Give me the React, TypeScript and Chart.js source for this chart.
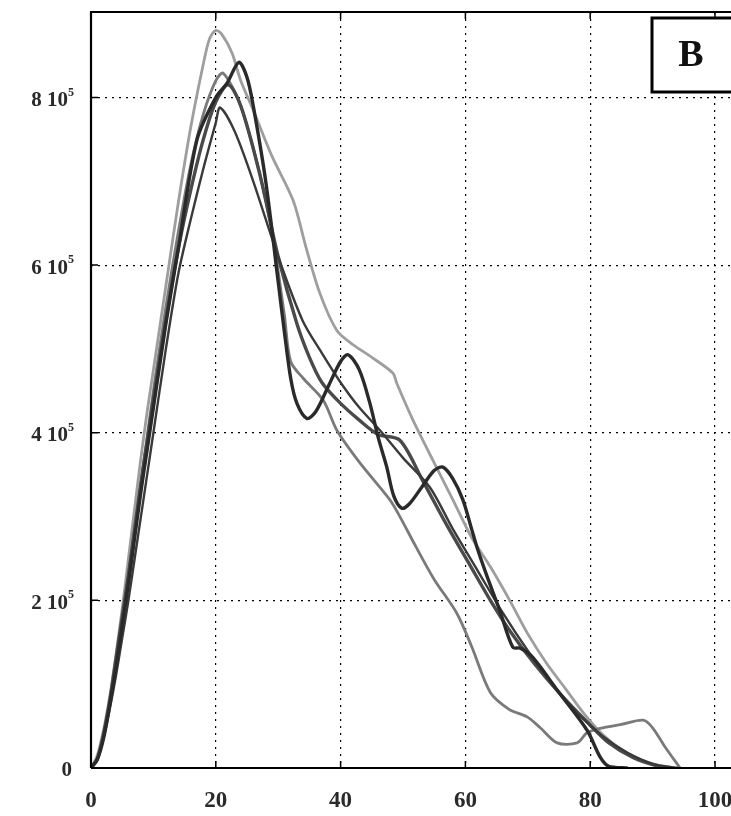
import React, { useEffect, useRef } from "react";
import { Chart, registerables } from "chart.js";

Chart.register(...registerables);

// Tick values
const X_TICKS = [0, 20, 40, 60, 80, 100];
const Y_TICKS = [0, 2, 4, 6, 8]; // in units of 10^5
const Y_EXPONENT = "5";

// Curve A (light, highest peak)
const curveAX = [0, 1, 2, 3, 4, 5, 6, 7, 8, 9, 10, 12, 14, 16, 18, 19, 20, 21, 22.6, 24, 26, 29, 32.4, 34.5, 36.7, 39.4, 42, 45, 48.4, 49, 51.6, 54.8, 58, 61, 64, 67.1, 70, 73, 76, 79, 82, 85, 88, 91, 94];
const curveAY = [0, 0.15, 0.45, 0.85, 1.35, 1.9, 2.5, 3.1, 3.7, 4.25, 4.75, 5.75, 6.75, 7.65, 8.4, 8.7, 8.8, 8.75, 8.53, 8.2, 7.85, 7.3, 6.77, 6.2, 5.66, 5.22, 5.05, 4.9, 4.71, 4.59, 4.15, 3.67, 3.2, 2.75, 2.4, 2.0, 1.6, 1.25, 0.95, 0.65, 0.4, 0.22, 0.1, 0.03, 0];

// Curve B (dark, wiggly)
const curveBX = [0, 1, 2, 3, 4, 5, 6, 7, 8, 9, 10, 12, 14, 17, 20, 21.8, 23.7, 25, 26, 28, 30, 31, 32, 33, 34.6, 36, 38, 40, 41.2, 43, 44.7, 46, 47.4, 48.5, 49.8, 51, 53, 55, 56.4, 58, 59.6, 61, 62, 63.5, 65.5, 67.6, 68.8, 70.8, 75, 79.5, 81.6, 83, 86];
const curveBY = [0, 0.1, 0.35, 0.75, 1.2, 1.7, 2.2, 2.75, 3.3, 3.8, 4.3, 5.3, 6.2, 7.5, 8.0, 8.17, 8.42, 8.24, 7.9, 7.0, 5.8, 5.2, 4.65, 4.35, 4.17, 4.25, 4.55, 4.85, 4.93, 4.75, 4.35, 3.95, 3.59, 3.25, 3.1, 3.15, 3.35, 3.55, 3.59, 3.45, 3.2, 2.85, 2.6, 2.28, 1.88, 1.44, 1.43, 1.32, 0.9, 0.45, 0.13, 0.02, 0];

// Curve C (medium dark, smooth)
const curveCX = [0, 1, 2, 3, 4, 5, 6, 7, 8, 9, 10, 12, 14, 16, 18, 20, 22, 24, 27, 30, 33, 35, 37, 40, 43, 46, 49.5, 53, 57, 60.5, 64, 67, 71, 75, 79.5, 83, 87, 91, 93];
const curveCY = [0, 0.1, 0.4, 0.8, 1.3, 1.8, 2.3, 2.85, 3.4, 3.9, 4.4, 5.35, 6.2, 6.9, 7.5, 7.95, 8.15, 7.9, 7.1, 6.1, 5.3, 4.9, 4.6, 4.35, 4.15, 3.98, 3.91, 3.45, 2.9, 2.45, 2.0, 1.65, 1.25, 0.9, 0.55, 0.3, 0.12, 0.02, 0];

// Curve D (dark thin, lowest peak)
const curveDX = [0, 1, 2, 3, 4, 5, 6, 7, 8, 9, 10, 12, 14, 16, 18, 20, 20.7, 23, 26, 30, 33.9, 37, 40, 43, 46.3, 50, 54.3, 58, 62, 66, 70, 74, 78, 82, 86, 90, 94];
const curveDY = [0, 0.1, 0.35, 0.7, 1.1, 1.55, 2.0, 2.5, 3.0, 3.5, 4.0, 5.0, 5.9, 6.55, 7.15, 7.7, 7.88, 7.6, 7.0, 6.1, 5.34, 4.95, 4.6, 4.3, 4.03, 3.7, 3.35, 2.85, 2.35, 1.85, 1.4, 1.0, 0.65, 0.38, 0.18, 0.05, 0];

// Curve E (light, lower tail with bump)
const curveEX = [0, 1, 2, 3, 4, 5, 6, 7, 8, 9, 10, 12, 14, 16, 18, 20, 21.2, 24, 27, 29, 31, 32, 34, 37.2, 39.4, 43, 47.9, 49.5, 52, 55, 58.6, 61, 64, 67, 69.9, 72, 74.7, 77.9, 79.5, 82, 85, 88.5, 90, 92, 94.4];
const curveEY = [0, 0.12, 0.4, 0.8, 1.25, 1.75, 2.3, 2.85, 3.4, 3.95, 4.5, 5.5, 6.4, 7.2, 7.8, 8.2, 8.29, 7.9, 7.1, 6.4, 5.4, 4.85, 4.65, 4.39, 4.03, 3.65, 3.2, 3.0, 2.65, 2.25, 1.85, 1.45, 0.9, 0.7, 0.61, 0.48, 0.3, 0.3, 0.42, 0.48, 0.52, 0.57, 0.48, 0.25, 0];

const toPoints = (xs: number[], ys: number[]) => xs.map((x, i) => ({ x, y: ys[i] }));

const AXIS_LEFT = 91;
const AXIS_BOTTOM_SPACE = 48;
const TOP_PAD = 12;
const FONT = "'Liberation Serif', serif";

const framePlugin = {
  id: "frame",
  afterDraw(chart: any) {
    const { ctx, chartArea } = chart;
    const xs = chart.scales.x;
    const ys = chart.scales.y;
    ctx.save();
    ctx.strokeStyle = "#000";
    // axes lines: left, bottom, top
    ctx.lineWidth = 2.2;
    ctx.setLineDash([]);
    ctx.beginPath();
    ctx.moveTo(chartArea.left, chartArea.bottom);
    ctx.lineTo(chartArea.left, chartArea.top);
    ctx.lineTo(chart.width, chartArea.top);
    ctx.moveTo(chartArea.left, chartArea.bottom);
    ctx.lineTo(chart.width, chartArea.bottom);
    ctx.stroke();
    // inward ticks
    ctx.lineWidth = 1.5;
    ctx.beginPath();
    for (const v of X_TICKS) {
      const px = xs.getPixelForValue(v);
      ctx.moveTo(px, chartArea.bottom);
      ctx.lineTo(px, chartArea.bottom - 7);
      ctx.moveTo(px, chartArea.top);
      ctx.lineTo(px, chartArea.top + 7);
    }
    for (const v of Y_TICKS) {
      const py = ys.getPixelForValue(v);
      ctx.moveTo(chartArea.left, py);
      ctx.lineTo(chartArea.left + 7, py);
    }
    ctx.stroke();
    // tick labels
    ctx.fillStyle = "#2a2a2a";
    ctx.textBaseline = "middle";
    ctx.font = `bold 23px ${FONT}`;
    ctx.textAlign = "center";
    for (const v of X_TICKS) {
      ctx.fillText(String(v), xs.getPixelForValue(v), chartArea.bottom + 33);
    }
    for (const v of Y_TICKS) {
      const py = ys.getPixelForValue(v) + 3;
      const right = 74;
      if (v === 0) {
        ctx.font = `bold 21px ${FONT}`;
        ctx.textAlign = "right";
        ctx.fillText("0", right - 2, py);
        continue;
      }
      ctx.font = `bold 12px ${FONT}`;
      const supW = ctx.measureText(Y_EXPONENT).width;
      ctx.textAlign = "left";
      ctx.fillText(Y_EXPONENT, right - supW, py - 8);
      ctx.font = `bold 21px ${FONT}`;
      ctx.textAlign = "right";
      ctx.fillText(`${v} 10`, right - supW, py);
    }
    // "B" panel label box
    ctx.fillStyle = "#fff";
    ctx.fillRect(652, 18, 100, 74);
    ctx.lineWidth = 3;
    ctx.strokeRect(652, 18, 100, 74);
    ctx.fillStyle = "#111";
    ctx.font = `bold 38px ${FONT}`;
    ctx.textAlign = "center";
    ctx.textBaseline = "middle";
    ctx.fillText("B", 691, 56);
    ctx.restore();
  },
};

export default function App() {
  const ref = useRef<HTMLCanvasElement | null>(null);

  useEffect(() => {
    if (!ref.current) return;
    const mk = (label: string, xs: number[], ys: number[], color: string, width: number) => ({
      label,
      data: toPoints(xs, ys),
      borderColor: color,
      borderWidth: width,
      pointRadius: 0,
      fill: false,
      tension: 0.3,
    });
    const gridCommon = {
      color: "#000",
      lineWidth: 1.2,
      tickLength: 0,
      drawTicks: false,
    };
    const chart = new Chart(ref.current, {
      type: "line",
      data: {
        datasets: [
          mk("B", curveBX, curveBY, "#2a2a2a", 3.4),
          mk("D", curveDX, curveDY, "#3a3a3a", 2.4),
          mk("C", curveCX, curveCY, "#4a4a4a", 3.4),
          mk("E", curveEX, curveEY, "#7a7a7a", 2.8),
          mk("A", curveAX, curveAY, "#9e9e9e", 2.8),
        ],
      },
      options: {
        responsive: false,
        animation: false,
        layout: { padding: { top: TOP_PAD, right: 0, left: 0, bottom: 0 } },
        plugins: { legend: { display: false }, tooltip: { enabled: false } },
        scales: {
          x: {
            type: "linear",
            min: 0,
            max: (731 - AXIS_LEFT) / 6.24,
            afterFit: (s: any) => {
              s.height = AXIS_BOTTOM_SPACE;
              s.paddingLeft = 0;
              s.paddingRight = 0;
            },
            afterBuildTicks: (s: any) => {
              s.ticks = X_TICKS.map((v) => ({ value: v }));
            },
            ticks: { display: false },
            grid: gridCommon,
            border: { display: false, dash: [2, 5] },
          },
          y: {
            type: "linear",
            min: 0,
            max: 9.02,
            afterFit: (s: any) => {
              s.width = AXIS_LEFT;
              s.paddingTop = 0;
              s.paddingBottom = 0;
            },
            afterBuildTicks: (s: any) => {
              s.ticks = Y_TICKS.map((v) => ({ value: v }));
            },
            ticks: { display: false },
            grid: gridCommon,
            border: { display: false, dash: [2, 5] },
          },
        },
      },
      plugins: [framePlugin],
    });
    return () => chart.destroy();
  }, []);

  return (
    <div style={{ position: "fixed", left: 0, top: 0, width: 731, height: 816, background: "#fff" }}>
      <canvas ref={ref} width={731} height={816} />
    </div>
  );
}
